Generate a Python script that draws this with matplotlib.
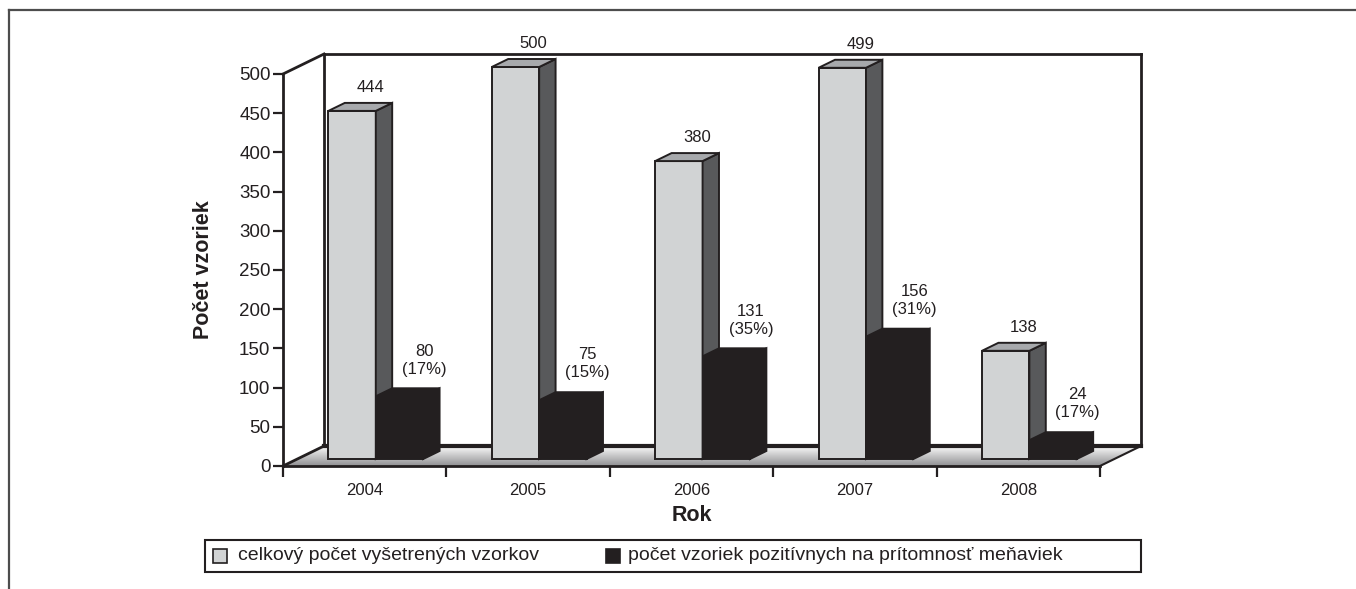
import matplotlib
matplotlib.use("Agg")
import matplotlib.pyplot as plt
from matplotlib.patches import Polygon, Rectangle
from matplotlib.lines import Line2D
import numpy as np

plt.rcParams["font.family"] = ["Liberation Sans", "DejaVu Sans"]

# data
years = ["2004", "2005", "2006", "2007", "2008"]
total = [444, 500, 380, 499, 138]
positive = [80, 75, 131, 156, 24]
positive_pct = [17, 15, 35, 31, 17]
yticks = [0, 50, 100, 150, 200, 250, 300, 350, 400, 450, 500]
legend_labels = ["celkový počet vyšetrených vzorkov",
                 "počet vzoriek pozitívnych na prítomnosť meňaviek"]

W, H = 1356, 589
INK = "#231f20"
GRAY_FRONT, GRAY_TOP, GRAY_SIDE = "#d1d3d4", "#a7a9ac", "#58595b"
BLACK = "#231f20"

fig = plt.figure(figsize=(W / 100, H / 100), dpi=100)
ax = fig.add_axes([283 / W, (H - 466) / H, 817 / W, 392 / H])
ax.set_xlim(0, len(years))
ax.set_ylim(0, 500)

# depth of the 3d box in data units (41 px across, 20 px up)
DX = 41 / 817 * len(years)
DY = 20 / 392 * 500


def pt(u, d, v):
    return (u + d * DX, v + d * DY)


def poly(pts, fc, ec=INK, lw=1.4, z=3):
    p = Polygon(pts, closed=True, facecolor=fc, edgecolor=ec, linewidth=lw,
                joinstyle="miter", zorder=z, clip_on=False)
    ax.add_patch(p)


def line(p0, p1, lw=2.0, z=2):
    ax.add_line(Line2D([p0[0], p1[0]], [p0[1], p1[1]], color=INK, lw=lw,
                       zorder=z, clip_on=False, solid_capstyle="projecting"))


n = len(years)

# floor with a vertical grey gradient
steps = 40
c_front = np.array([0.55, 0.55, 0.56])
c_back = np.array([0.98, 0.98, 0.98])
for k in range(steps):
    d0, d1 = k / steps, (k + 1) / steps
    col = c_front + (c_back - c_front) * (k + 0.5) / steps
    poly([pt(0, d0, 0), pt(n, d0, 0), pt(n, d1, 0), pt(0, d1, 0)],
         fc=col, ec=col, lw=0.3, z=1)

# back wall and depth edges
line(pt(0, 1, 0), pt(0, 1, 500))
line(pt(0, 1, 500), pt(n, 1, 500))
line(pt(n, 1, 0), pt(n, 1, 500))
line(pt(0, 1, 0), pt(n, 1, 0), lw=3.0)
line(pt(0, 0, 0), pt(0, 1, 0))
line(pt(0, 0, 500), pt(0, 1, 500))
line(pt(n, 0, 0), pt(n, 1, 0), lw=1.5)

# 3d bars
d_front, d_back = 0.35, 0.75
bar_w = 0.29
g_left = 0.19


def bar3d(x0, v, front, top, side, z, ec=INK):
    x1 = x0 + bar_w
    poly([pt(x0, d_front, 0), pt(x1, d_front, 0), pt(x1, d_front, v), pt(x0, d_front, v)], front, ec=ec, z=z)
    poly([pt(x1, d_front, 0), pt(x1, d_back, 0), pt(x1, d_back, v), pt(x1, d_front, v)], side, ec=ec, z=z)
    poly([pt(x0, d_front, v), pt(x1, d_front, v), pt(x1, d_back, v), pt(x0, d_back, v)], top, ec=ec, z=z)


for i in range(n):
    xg = i + g_left
    xb = xg + bar_w
    bar3d(xg, total[i], GRAY_FRONT, GRAY_TOP, GRAY_SIDE, z=3 + i * 0.1)
    bar3d(xb, positive[i], BLACK, BLACK, BLACK, z=3.05 + i * 0.1)

    gx, gy = pt(xg + bar_w / 2, d_back, total[i])
    ax.text(gx + 0.01, gy + 10, str(total[i]), ha="center", va="bottom",
            fontsize=12, color=INK, zorder=6)
    bx, by = pt(xb + bar_w / 2, d_back, positive[i])
    ax.text(bx + 0.05, by + 15, f"{positive[i]}\n({positive_pct[i]}%)",
            ha="center", va="bottom", fontsize=12, color=INK, zorder=6,
            linespacing=1.25)

# axes styling
for s in ("top", "right"):
    ax.spines[s].set_visible(False)
ax.spines["left"].set_linewidth(2.0)
ax.spines["bottom"].set_linewidth(2.0)
ax.spines["left"].set_color(INK)
ax.spines["bottom"].set_color(INK)
ax.patch.set_visible(False)

ax.set_yticks(yticks)
ax.tick_params(axis="y", length=7, width=1.6, color=INK, labelsize=13.5, pad=2,
               labelcolor=INK)
ax.set_xticks(np.arange(n + 1))
ax.set_xticklabels([])
ax.set_xticks(np.arange(n) + 0.5, minor=True)
ax.set_xticklabels(years, minor=True)
ax.tick_params(axis="x", which="major", length=8, width=1.6, color=INK)
ax.tick_params(axis="x", which="minor", length=0, pad=12, labelsize=12, labelcolor=INK)

ax.set_xlabel("Rok", fontsize=15.5, fontweight="bold", labelpad=5, color=INK)
ax.set_ylabel("Počet vzoriek", fontsize=15.5, fontweight="bold", labelpad=18, color=INK)


# outer frame (cropped at right and bottom)
def fx(px):
    return px / W


def fy(py):
    return 1 - py / H


fig.add_artist(Line2D([fx(9), 1.0], [fy(10), fy(10)], color="#4d4d4d", lw=1.6,
                      transform=fig.transFigure))
fig.add_artist(Line2D([fx(9), fx(9)], [fy(10), 0.0], color="#4d4d4d", lw=1.6,
                      transform=fig.transFigure))

# legend box drawn by hand to match the layout
fig.add_artist(Rectangle((fx(205), fy(572)), fx(1141) - fx(205), fy(540) - fy(572),
                         transform=fig.transFigure, facecolor="white",
                         edgecolor=INK, lw=1.5))
sq = 14
for xs, xt, fc, label in [(213, 238, GRAY_FRONT, legend_labels[0]),
                          (606, 628, BLACK, legend_labels[1])]:
    fig.add_artist(Rectangle((fx(xs), fy(563)), sq / W, sq / H,
                             transform=fig.transFigure, facecolor=fc,
                             edgecolor=INK, lw=1.2))
    fig.text(fx(xt), fy(556), label, fontsize=14, color=INK,
             ha="left", va="center")

fig.savefig("out.png", dpi=100)
